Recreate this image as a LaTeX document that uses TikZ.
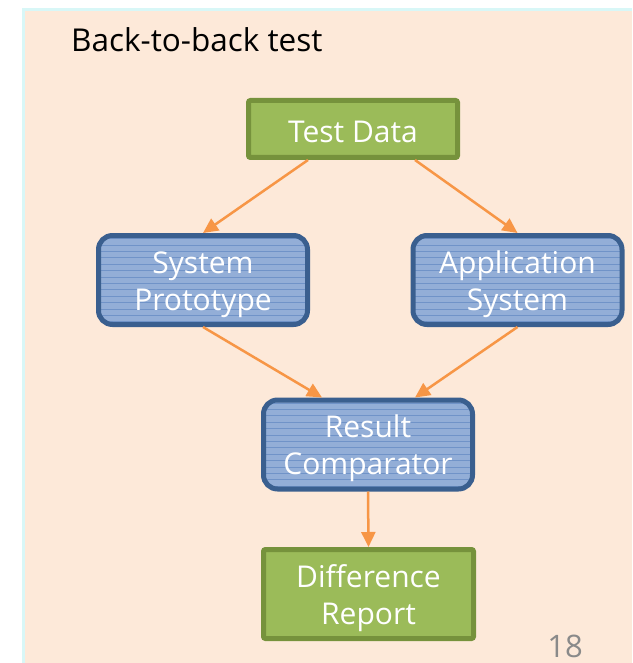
\documentclass[tikz,border=0pt]{standalone}
\usepackage{fontspec}
\setmainfont{Open Sans}
\usetikzlibrary{arrows.meta}
\definecolor{slidebg}{HTML}{FDE9D9}
\definecolor{slideedge}{HTML}{D8F7F7}
\definecolor{greenfill}{HTML}{9BBB59}
\definecolor{greenedge}{HTML}{76923C}
\definecolor{bluefill}{HTML}{93AED7}
\definecolor{blueline}{HTML}{7093C8}
\definecolor{blueedge}{HTML}{3A5F8F}
\definecolor{flow}{HTML}{F79646}
\definecolor{pagenum}{HTML}{8A8A8A}
% lower a text by #1 while keeping its box size, so the node stays centred
\newcommand{\lowered}[2]{\raisebox{-#1}[\height][\depth]{#2}}
% two centred lines, 37pt apart
\newcommand{\twolines}[2]{\lowered{4.5pt}{\begin{tabular}{@{}c@{}}#1\\#2\end{tabular}}}
\tikzset{
  boxtext/.style={text=white, font=\fontsize{30}{37}\selectfont, align=center},
  greenbox/.style={boxtext, draw=greenedge, fill=greenfill, line width=5pt,
    rounded corners=2pt, inner sep=0pt},
  bluebox/.style={boxtext, draw=blueedge, fill=bluefill, line width=5pt,
    rounded corners=14pt, inner sep=0pt, minimum width=209pt, minimum height=89pt,
    path picture={
      \foreach \k in {0,...,16}
        \draw[blueline, line width=0.8pt]
          ([yshift=-3pt-6.4pt*\k]path picture bounding box.north west) --
          ([yshift=-3pt-6.4pt*\k]path picture bounding box.north east);
    }},
  flowarrow/.style={draw=flow, line width=2.5pt,
    -{Triangle[length=15pt,width=14pt]}}
}
\begin{document}
\begin{tikzpicture}[x=1pt,y=-1pt]
  \useasboundingbox (0,0) rectangle (632,663);
  % slide background with its thin top and left edge
  \fill[slideedge] (22,8) rectangle (632,663);
  \fill[slidebg] (25,11) rectangle (632,663);

  \node[anchor=base west, inner sep=0pt, font=\fontsize{31.5}{38}\selectfont] (title) at (71,52) {Back-to-back test};

  \node[greenbox, minimum width=209pt, minimum height=57pt] (td) at (353,129) {\lowered{2.5pt}{Test Data}};
  \node[bluebox] (sp) at (203,280) {\twolines{System}{Prototype}};
  \node[bluebox] (as) at (517.5,280) {\twolines{Application}{System}};
  \node[bluebox] (rc) at (368,444.5) {\twolines{Result}{Comparator}};
  \node[greenbox, minimum width=210pt, minimum height=89pt] (dr) at (368.5,594) {\twolines{Difference}{Report}};

  \draw[flowarrow] ([xshift=-45pt]td.south) -- (sp.north);
  \draw[flowarrow] ([xshift=62pt]td.south) -- (as.north);
  \draw[flowarrow] (sp.south) -- ([xshift=-46pt]rc.north);
  \draw[flowarrow] (as.south) -- ([xshift=47pt]rc.north);
  \draw[flowarrow] (rc.south) -- (dr.north);

  \node[anchor=base, inner sep=0pt, text=pagenum, font=\fontsize{31}{36}\selectfont] (page) at (565,657) {18};
\end{tikzpicture}
\end{document}
